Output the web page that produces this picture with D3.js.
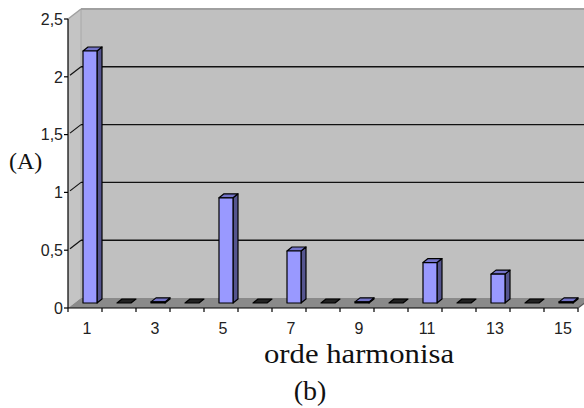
<!DOCTYPE html>
<html><head><meta charset="utf-8">
<script src="https://cdn.jsdelivr.net/npm/d3@7"></script>
<style>body{margin:0;background:#fff}svg{display:block}</style>
</head><body><svg id="c" width="584" height="408"></svg>
<script>
const categories = [1,2,3,4,5,6,7,8,9,10,11,12,13,14,15];
const values = [2.18,0,0.01,0,0.91,0,0.45,0,0.01,0,0.35,0,0.25,0,0.01];
const tickLabels = ["0","0,5","1","1,5","2","2,5"];
const tickValues = [0,0.5,1,1.5,2,2.5];
const labelCats = [1,3,5,7,9,11,13,15];
const yTitle = "(A)";
const xTitle = "orde harmonisa";
const caption = "(b)";

const svg = d3.select("#c");
const DX = 13, DY = 10;        // plot depth offset (front -> back)
const x = d3.scaleBand().domain(categories).range([68, 578]).padding(0);
const yBack = d3.scaleLinear().domain([0, 2.5]).range([298, 9]);
const yFront = v => yBack(v) + DY;
const x0 = 68, x1 = 578;

// back wall
svg.append("rect").attr("x", x0 + DX).attr("y", yBack(2.5)).attr("width", 600).attr("height", yBack(0) - yBack(2.5)).attr("fill", "#c0c0c0");
// side wall
svg.append("polygon").attr("points", [[x0, yFront(2.5)], [x0 + DX, yBack(2.5)], [x0 + DX, yBack(0)], [x0, yFront(0)]].join(" ")).attr("fill", "#c4c4c4");
svg.append("line").attr("x1", x0 + DX).attr("x2", x0 + DX).attr("y1", yBack(2.5)).attr("y2", yBack(0)).attr("stroke", "#a8a8a8").attr("stroke-width", 1);
// top edges
svg.append("line").attr("x1", x0 + DX).attr("x2", 584).attr("y1", yBack(2.5)).attr("y2", yBack(2.5)).attr("stroke", "#a0a0a0").attr("stroke-width", 2);
svg.append("line").attr("x1", x0).attr("y1", yFront(2.5)).attr("x2", x0 + DX).attr("y2", yBack(2.5)).attr("stroke", "#a0a0a0").attr("stroke-width", 1.5);
// floor
svg.append("polygon").attr("points", [[x0, yFront(0)], [x1, yFront(0)], [x1 + DX, yBack(0)], [x0 + DX, yBack(0)]].join(" ")).attr("fill", "#8a8a8a");

// gridlines
const grid = tickValues.filter(v => v > 0 && v < 2.5);
svg.selectAll("line.grid").data(grid).join("line").attr("class", "grid")
  .attr("x1", x0 + DX).attr("x2", 584).attr("y1", d => yBack(d)).attr("y2", d => yBack(d))
  .attr("stroke", "#111").attr("stroke-width", 1.4);
svg.selectAll("line.sgrid").data(tickValues.filter(v => v > 0 && v < 2.5)).join("line").attr("class", "sgrid")
  .attr("x1", x0 + 2).attr("y1", d => yFront(d) - 1.5).attr("x2", x0 + DX).attr("y2", d => yBack(d))
  .attr("stroke", "#111").attr("stroke-width", 1.2);

// bars
const bw = 14, bdx = 5, bdy = 4, sx = 5, sy = 5;
const g = svg.append("g").attr("stroke", "#000").attr("stroke-width", 1.2).attr("stroke-linejoin", "round");
categories.forEach((c, i) => {
  const v = values[i];
  const cx = x(c) + x.bandwidth() / 2 + sx;
  const l = cx - bw / 2, r = cx + bw / 2;
  const b = yFront(0) - sy, t = yFront(v) - sy;
  if (v > 0) {
    g.append("polygon").attr("points", [[r, t], [r + bdx, t - bdy], [r + bdx, b - bdy], [r, b]].join(" ")).attr("fill", "#55558f");
    g.append("polygon").attr("points", [[l, t], [l + bdx, t - bdy], [r + bdx, t - bdy], [r, t]].join(" ")).attr("fill", "#7373c8");
    g.append("rect").attr("x", l).attr("y", t).attr("width", bw).attr("height", Math.max(0.5, b - t)).attr("fill", "#9999ff");
  } else {
    g.append("polygon").attr("points", [[l, t], [l + bdx, t - bdy], [r + bdx, t - bdy], [r, t]].join(" ")).attr("fill", "#222");
  }
});

// axes
const axisG = svg.append("g").attr("stroke", "#000").attr("stroke-width", 1.2);
axisG.append("line").attr("x1", x0).attr("x2", x0).attr("y1", yFront(2.5)).attr("y2", yFront(0));
axisG.append("line").attr("x1", x0).attr("x2", x1).attr("y1", yFront(0)).attr("y2", yFront(0));
axisG.append("line").attr("x1", x1).attr("y1", yFront(0)).attr("x2", x1 + DX).attr("y2", yBack(0)).attr("stroke", "#555");
axisG.selectAll("line.yt").data(tickValues).join("line").attr("class", "yt")
  .attr("x1", x0 - 4).attr("x2", x0).attr("y1", d => yFront(d)).attr("y2", d => yFront(d));
const xTicks = d3.range(categories.length + 1).map(k => x0 + k * x.bandwidth());
axisG.selectAll("line.xt").data(xTicks).join("line").attr("class", "xt")
  .attr("x1", d => d).attr("x2", d => d).attr("y1", yFront(0)).attr("y2", yFront(0) + 4);

// tick labels
svg.selectAll("text.yl").data(tickValues).join("text").attr("class", "yl")
  .attr("x", 63).attr("y", d => yFront(d)).attr("dy", "0.36em").attr("text-anchor", "end")
  .attr("font-family", "Liberation Sans, Arial, sans-serif").attr("font-size", 16).attr("fill", "#222")
  .text((d, i) => tickLabels[i]);
svg.selectAll("text.xl").data(labelCats).join("text").attr("class", "xl")
  .attr("x", d => x(d) + x.bandwidth() / 2 + 2).attr("y", 334).attr("text-anchor", "middle")
  .attr("font-family", "Liberation Sans, Arial, sans-serif").attr("font-size", 16).attr("fill", "#222")
  .text(d => d);

// titles
const serif = "Liberation Serif, 'DejaVu Serif', serif";
svg.append("text").attr("x", 9).attr("y", 169).attr("font-family", serif).attr("font-size", 24).attr("fill", "#111").text(yTitle);
svg.append("text").attr("x", 264).attr("y", 363).attr("font-family", serif).attr("font-size", 28)
  .attr("textLength", 190).attr("lengthAdjust", "spacingAndGlyphs").attr("fill", "#111").text(xTitle);
svg.append("text").attr("x", 310).attr("y", 400).attr("text-anchor", "middle").attr("font-family", serif).attr("font-size", 28).attr("fill", "#111").text(caption);
</script></body></html>
